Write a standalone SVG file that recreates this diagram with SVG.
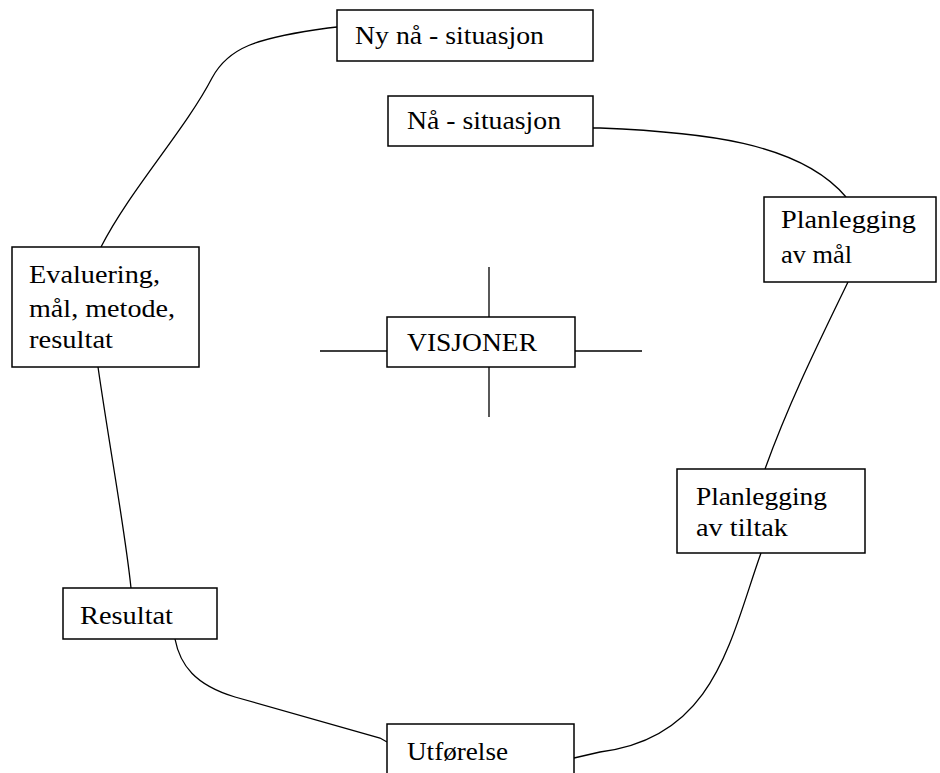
<svg xmlns="http://www.w3.org/2000/svg" width="940" height="773" viewBox="0 0 940 773">
<style>
.box{fill:#fff;stroke:#000;stroke-width:1.5}
.c{fill:none;stroke:#000;stroke-width:1.3}
text{font-family:"Liberation Serif","Times New Roman",serif;font-size:26px;fill:#000}
</style>
<rect width="940" height="773" fill="#fff"/>
<g id="connectors">
<path class="c" d="M337,27 L328,28 C 255,38 228,48 212,78 C 185,130 130,190 101,247"/>
<path class="c" d="M593,128 L600,128 C 700,132 800,142 846,197"/>
<path class="c" d="M848,282 C 820,340 790,400 765,469"/>
<path class="c" d="M761,553 C 730,640 715,738 600,752 L574,758"/>
<path class="c" d="M98,367 C 110,450 125,530 131,588"/>
<path class="c" d="M175,639 C 180,665 195,685 235,697 L380,738 L387,742"/>
<path class="c" d="M320,351 H387 M575,351 H642 M489,267 V317 M489,367 V417"/>
</g>
<g id="ny-na-situasjon">
<rect class="box" x="337" y="10" width="256" height="51"/>
<text x="355" y="44" textLength="189" lengthAdjust="spacingAndGlyphs">Ny nå - situasjon</text>
</g>
<g id="na-situasjon">
<rect class="box" x="388" y="96" width="205" height="50"/>
<text x="407" y="129" textLength="154" lengthAdjust="spacingAndGlyphs">Nå - situasjon</text>
</g>
<g id="planlegging-mal">
<rect class="box" x="764" y="197" width="172" height="85"/>
<text x="781" y="228" textLength="135" lengthAdjust="spacingAndGlyphs">Planlegging</text>
<text x="781" y="263" textLength="71" lengthAdjust="spacingAndGlyphs">av mål</text>
</g>
<g id="evaluering">
<rect class="box" x="12" y="247" width="187" height="120"/>
<text x="29" y="283" textLength="131" lengthAdjust="spacingAndGlyphs">Evaluering,</text>
<text x="29" y="317" textLength="146" lengthAdjust="spacingAndGlyphs">mål, metode,</text>
<text x="29" y="348" textLength="84" lengthAdjust="spacingAndGlyphs">resultat</text>
</g>
<g id="visjoner">
<rect class="box" x="387" y="317" width="188" height="50"/>
<text x="407" y="351" textLength="130" lengthAdjust="spacingAndGlyphs">VISJONER</text>
</g>
<g id="planlegging-tiltak">
<rect class="box" x="677" y="469" width="188" height="84"/>
<text x="696" y="505" textLength="131" lengthAdjust="spacingAndGlyphs">Planlegging</text>
<text x="696" y="536" textLength="92" lengthAdjust="spacingAndGlyphs">av tiltak</text>
</g>
<g id="resultat">
<rect class="box" x="63" y="588" width="154" height="51"/>
<text x="80" y="624" textLength="93" lengthAdjust="spacingAndGlyphs">Resultat</text>
</g>
<g id="utforelse">
<rect class="box" x="387" y="724" width="187" height="60"/>
<text x="407" y="760" textLength="101" lengthAdjust="spacingAndGlyphs">Utførelse</text>
</g>
</svg>
